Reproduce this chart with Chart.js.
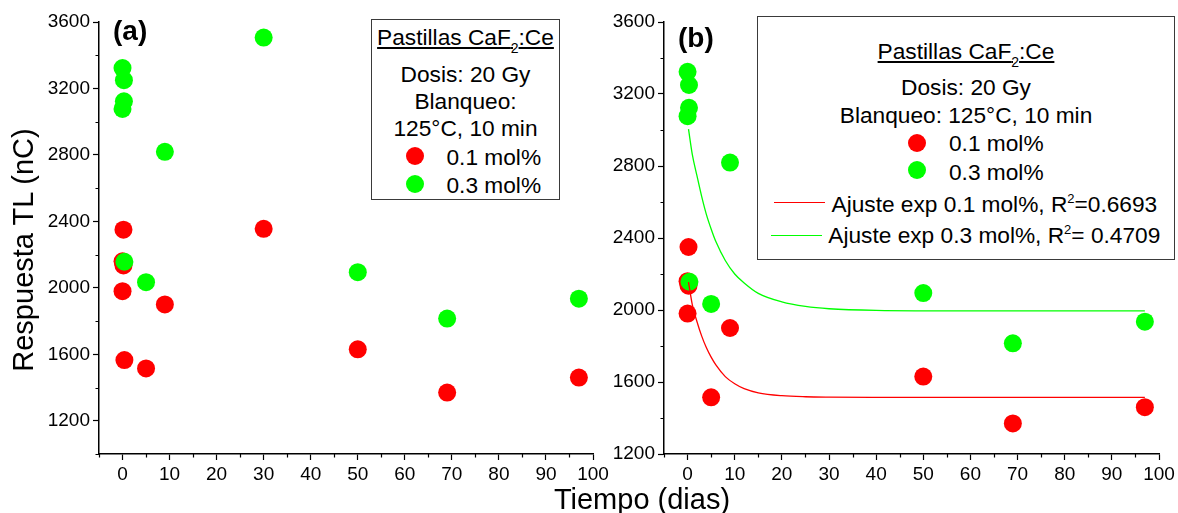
<!DOCTYPE html>
<html lang="es">
<head>
<meta charset="utf-8">
<title>Respuesta TL vs tiempo - Pastillas CaF2:Ce</title>
<script src="https://cdn.jsdelivr.net/npm/chart.js@4.4.1/dist/chart.umd.min.js"></script>
<style>
  html, body { margin: 0; padding: 0; background: #fff; }
  #fig { position: relative; width: 1178px; height: 513px; overflow: hidden;
         font-family: "Liberation Sans", Arial, sans-serif; color: #000; background: #fff; }
  canvas { position: absolute; top: 0; }
  .box { position: absolute; box-sizing: border-box; border: 1.5px solid #3a3a3a; background: #fff; }
  .t { position: absolute; white-space: nowrap; font-size: 22.7px; height: 26px; line-height: 26px; }
  .c { text-align: center; }
  .u { text-decoration: underline; text-decoration-thickness: 1.5px; text-underline-offset: 2px; }
  .sub { font-size: 14px; vertical-align: -8px; line-height: 0; }
  .sup { font-size: 13px; vertical-align: 9.5px; line-height: 0; }
  .dot { position: absolute; width: 18px; height: 18px; border-radius: 50%; }
  .key { position: absolute; height: 0; border-top: 1.3px solid; }
  .lbl { position: absolute; font-weight: bold; font-size: 28px; line-height: 32px; white-space: nowrap; }
  .title { position: absolute; font-size: 29px; height: 34px; line-height: 34px; text-align: center; white-space: nowrap; }
</style>
</head>
<body>
<div id="fig">
  <canvas id="panelA" width="620" height="513" style="left:0"></canvas>
  <canvas id="panelB" width="578" height="513" style="left:600px"></canvas>

  <!-- shared axis titles -->
  <div class="title" style="left:-177px; top:233px; width:400px; transform:rotate(-90deg);">Respuesta TL (nC)</div>
  <div class="title" style="left:492px; top:482px; width:300px;">Tiempo (dias)</div>

  <!-- panel labels -->
  <div class="lbl" style="left:113px; top:15px;">(a)</div>
  <div class="lbl" style="left:678px; top:22px;">(b)</div>

  <!-- legend, panel (a) -->
  <div class="box" style="left:371px; top:19px; width:189px; height:181px;"></div>
  <div class="t c" style="left:371px; width:189px; top:24px;"><span class="u">Pastillas CaF<span class="sub">2</span>:Ce</span></div>
  <div class="t c" style="left:371px; width:189px; top:60.5px;">Dosis: 20 Gy</div>
  <div class="t c" style="left:371px; width:189px; top:87.5px;">Blanqueo:</div>
  <div class="t c" style="left:371px; width:189px; top:115px;">125°C, 10 min</div>
  <div class="dot" style="left:406px; top:146.5px; background:#ff0000;"></div>
  <div class="t" style="left:446.5px; top:143.5px;">0.1 mol%</div>
  <div class="dot" style="left:406px; top:175px; background:#00ff00;"></div>
  <div class="t" style="left:446.5px; top:171.8px;">0.3 mol%</div>

  <!-- legend, panel (b) -->
  <div class="box" style="left:757px; top:16px; width:418px; height:244px;"></div>
  <div class="t c" style="left:757px; width:418px; top:38px;"><span class="u">Pastillas CaF<span class="sub">2</span>:Ce</span></div>
  <div class="t c" style="left:757px; width:418px; top:74px;">Dosis: 20 Gy</div>
  <div class="t c" style="left:757px; width:418px; top:101.8px;">Blanqueo: 125°C, 10 min</div>
  <div class="dot" style="left:907.5px; top:133.5px; background:#ff0000;"></div>
  <div class="t" style="left:949px; top:129.8px;">0.1 mol%</div>
  <div class="dot" style="left:907.5px; top:161.3px; background:#00ff00;"></div>
  <div class="t" style="left:949px; top:158.5px;">0.3 mol%</div>
  <div class="key" style="left:774px; width:51px; top:202px; border-color:#ff0000;"></div>
  <div class="t" style="left:831.5px; top:190.6px;">Ajuste exp 0.1 mol%, R<span class="sup">2</span>=0.6693</div>
  <div class="key" style="left:771px; width:51px; top:234.5px; border-color:#00ff00;"></div>
  <div class="t" style="left:828.3px; top:222.3px;">Ajuste exp 0.3 mol%, R<span class="sup">2</span>= 0.4709</div>
</div>

<script>
// Measured TL response (nC) against storage time (days), panel (a)
const daysLow  = [0, 0.2, 0.2, 0, 0.4, 5, 9, 30, 50, 69, 97];
const respLow  = [2160, 2135, 2350, 1980, 1565, 1515, 1900, 2355, 1630, 1370, 1460];
const daysHigh = [0, 0.3, 0.3, 0, 0.4, 5, 9, 30, 50, 69, 97];
const respHigh = [3323, 3250, 3123, 3077, 2157, 2034, 2819, 3506, 2094, 1815, 1935];

// Points used for the fits in panel (b)
const daysLowFit = [0, 0.2, 0.2, 0, 5, 9, 30, 50, 69, 97];
const respLowFit = [2160, 2135, 2350, 1980, 1515, 1900, 2355, 1630, 1370, 1460];

// Exponential-fit curves, sampled along the time axis
const fitDays = [0.2, 1, 2, 3, 4, 5, 6, 8, 10, 12, 15, 20, 25, 30, 40, 60, 80, 97];
const fitLow  = [2155, 2030, 1935, 1855, 1790, 1738, 1695, 1630, 1590, 1563, 1540, 1524, 1518, 1516, 1515, 1515, 1515, 1515];
const fitHigh = [3005, 2865, 2745, 2630, 2530, 2450, 2380, 2275, 2200, 2150, 2092, 2045, 2020, 2007, 1998, 1995, 1995, 1995];

// Axis ranges and ticks
const xRange = [-5, 100];
const xStep = 5, xLabelEvery = 10;
const yRangeA = [1000, 3600];
const yRangeB = [1200, 3600];
const yStep = 200, yLabelEvery = 400;

const RED = '#ff0000';
const GREEN = '#00ff00';
const AXIS = '#000';
const FONT = '"Liberation Sans", Arial, sans-serif';

const pairs = (xs, ys) => xs.map((x, i) => ({ x, y: ys[i] }));
const isMajorX = v => v % xLabelEvery === 0;
const isMajorY = v => v % yLabelEvery === 0;

// Short ticks between the labelled ones
const minorTicks = {
  id: 'minorTicks',
  afterDraw(chart) {
    const { ctx, scales: { x, y } } = chart;
    ctx.save();
    ctx.strokeStyle = AXIS;
    ctx.lineWidth = 1.2;
    ctx.beginPath();
    for (const t of x.ticks) {
      if (isMajorX(t.value)) continue;
      const p = Math.round(x.getPixelForValue(t.value)) + 0.5;
      ctx.moveTo(p, x.top);
      ctx.lineTo(p, x.top + 3.5);
    }
    for (const t of y.ticks) {
      if (isMajorY(t.value)) continue;
      const p = Math.round(y.getPixelForValue(t.value)) + 0.5;
      ctx.moveTo(y.right, p);
      ctx.lineTo(y.right - 3.5, p);
    }
    ctx.stroke();
    ctx.restore();
  }
};

function pointSet(label, xs, ys, color, order) {
  return {
    label, data: pairs(xs, ys), backgroundColor: color, borderColor: color,
    pointRadius: 9, pointHoverRadius: 9, pointBorderWidth: 0, showLine: false, order
  };
}

function fitSet(label, ys, color) {
  return {
    label, data: pairs(fitDays, ys), borderColor: color, backgroundColor: color,
    borderWidth: 1.3, pointRadius: 0, showLine: true, fill: false,
    cubicInterpolationMode: 'monotone', order: 0
  };
}

function makePanel(id, yRange, yWidth, padRight, datasets) {
  const tickColor = test => c => (c.tick && test(c.tick.value)) ? AXIS : 'rgba(0,0,0,0)';
  return new Chart(document.getElementById(id), {
    type: 'scatter',
    data: { datasets },
    options: {
      responsive: false, animation: false, devicePixelRatio: 1, events: [],
      layout: { padding: { left: 0, top: 22, right: padRight, bottom: 19 } },
      plugins: { legend: { display: false }, tooltip: { enabled: false } },
      scales: {
        x: {
          type: 'linear', min: xRange[0], max: xRange[1],
          afterFit: s => { s.height = 40; },
          border: { display: true, color: AXIS, width: 1.5 },
          grid: { drawOnChartArea: false, drawTicks: true, tickLength: 6, tickWidth: 1.2, tickColor: tickColor(isMajorX) },
          ticks: { stepSize: xStep, autoSkip: false, maxRotation: 0, padding: 3, color: '#000',
                   font: { family: FONT, size: 19 }, callback: v => isMajorX(v) ? v : '' }
        },
        y: {
          type: 'linear', min: yRange[0], max: yRange[1],
          afterFit: s => { s.width = yWidth; },
          border: { display: true, color: AXIS, width: 1.5 },
          grid: { drawOnChartArea: false, drawTicks: true, tickLength: 6, tickWidth: 1.2, tickColor: tickColor(isMajorY) },
          ticks: { stepSize: yStep, autoSkip: false, padding: 3, color: '#000',
                   font: { family: FONT, size: 19 }, callback: v => isMajorY(v) ? v : '' }
        }
      }
    },
    plugins: [minorTicks]
  });
}

// (a) measured points only
makePanel('panelA', yRangeA, 99, 27, [
  pointSet('0.3 mol%', daysHigh, respHigh, GREEN, 1),
  pointSet('0.1 mol%', daysLow, respLow, RED, 2)
]);

// (b) fitted points with exponential fits
makePanel('panelB', yRangeB, 64, 19, [
  fitSet('Ajuste exp 0.1 mol%', fitLow, RED),
  fitSet('Ajuste exp 0.3 mol%', fitHigh, GREEN),
  pointSet('0.3 mol%', daysHigh, respHigh, GREEN, 1),
  pointSet('0.1 mol%', daysLowFit, respLowFit, RED, 2)
]);
</script>
</body>
</html>
